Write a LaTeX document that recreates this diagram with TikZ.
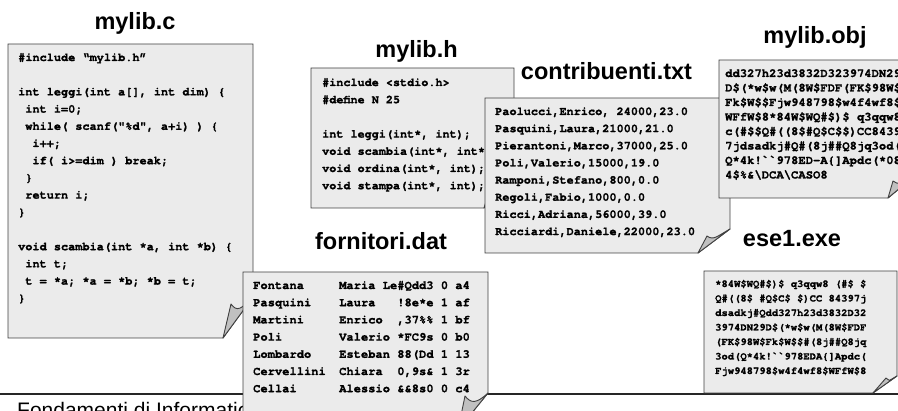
\documentclass[tikz,border=0pt]{standalone}
\usepackage{fontspec}
\setmainfont{Liberation Sans}
\setmonofont{texgyrecursor-bold.otf}[FakeBold=1.2]
\definecolor{boxfill}{HTML}{EBEBEB}
\definecolor{flapfill}{HTML}{C0C0C0}
\definecolor{edgegray}{HTML}{404040}
\tikzset{
  filetitle/.style={font=\fontsize{23.5}{28}\selectfont\bfseries, anchor=base, inner sep=0pt},
  codeline/.style={anchor=base west, inner sep=0pt, font=\ttfamily\fontsize{#1}{#1}\selectfont},
  docbody/.style={fill=boxfill, draw=edgegray, line width=0.9pt, line join=miter},
  docflap/.style={fill=flapfill, draw=edgegray, line width=0.9pt, line join=round},
}
% L T R B w h tx ty
\newcommand\docbox[8]{%
  \draw[docbody] (#1,#2) -- (#3,#2) -- ({#3},{#4-#6}) -- ({#3-#5},{#4}) -- (#1,#4) -- cycle;
  \draw[docflap] ({#3-#5},{#4}) -- ({#3-#5+#7},{#4-#8})
     .. controls +({0.2*#5},{0.2*#6}) and +({-0.4*#5},{0.3*#6}) .. ({#3},{#4-#6}) -- cycle;
}
\newcommand\onech{\hspace*{0.6em}}
\begin{document}
\begin{tikzpicture}[x=1pt,y=-1pt]
\useasboundingbox (0,0) rectangle (898,411);
\clip (0,0) rectangle (898,411);

% ---------- mylib.c ----------
\node[filetitle] (tc) at (135,29.5) {mylib.c};
\docbox{8}{44}{253}{338}{30}{41}{8}{34}
\foreach \i/\t in {0/{\#include “mylib.h”},
  2/{int leggi(int a[], int dim) \{},
  3/{\onech int i=0;},
  4/{\onech while( scanf("\%d", a+i) ) \{},
  5/{\onech\onech i++;},
  6/{\onech\onech if( i>=dim ) break;},
  7/{\onech \}},
  8/{\onech return i;},
  9/{\}},
  11/{void scambia(int *a, int *b) \{},
  12/{\onech int t;},
  13/{\onech t = *a; *a = *b; *b = t;},
  14/{\}}}
  \node[codeline=11.9] (c\i) at (18,{61+\i*17.2}) {\t};

% ---------- mylib.h ----------
\node[filetitle] (th) at (416.5,58) {mylib.h};
\docbox{311}{68}{514}{208}{30}{30}{8}{26}
\foreach \i/\t in {0/{\#include <stdio.h>},
  1/{\#define N 25},
  3/{int leggi(int*, int);},
  4/{void scambia(int*, int*);},
  5/{void ordina(int*, int);},
  6/{void stampa(int*, int);}}
  \node[codeline=11.8] (h\i) at (322,{86+\i*17.2}) {\t};

% ---------- contribuenti.txt ----------
\node[filetitle] (tt) at (606.5,79.5) {contribuenti.txt};
\docbox{485}{98}{730}{253}{32}{24}{9}{17}
\foreach \i/\t in {0/{Paolucci,Enrico, 24000,23.0},
  1/{Pasquini,Laura,21000,21.0},
  2/{Pierantoni,Marco,37000,25.0},
  3/{Poli,Valerio,15000,19.0},
  4/{Ramponi,Stefano,800,0.0},
  5/{Regoli,Fabio,1000,0.0},
  6/{Ricci,Adriana,56000,39.0},
  7/{Ricciardi,Daniele,22000,23.0}}
  \node[codeline=11.9] (t\i) at (495,{115+\i*17.15}) {\t};

% ---------- mylib.obj ----------
\node[filetitle] (to) at (815,43.5) {mylib.obj};
\docbox{719}{60}{912}{198}{24}{20}{5}{17}
\foreach \i/\t in {0/{dd327h23d3832D323974DN29D\$},
  1/{D\$(*w\$w(M(8W\$FDF(FK\$98W\$},
  2/{Fk\$W\$\$Fjw948798\$w4f4wf8\$},
  3/{WFfW\$8*84W\$WQ\#\$)\$ q3qqw8},
  4/{c(\#\$\$Q\#((8\$\#Q\$C\$\$)CC8439},
  5/{7jdsadkj\#Q\#(8j\#\#Q8jq3od(},
  6/{Q*4k!{}`{}`{}978ED-A\{]Apdc(*08},
  7/{4\$\%\&\textbackslash DCA\textbackslash CASO8}}
  \node[codeline=12.2] (o\i) at (725,{77+\i*14.5}) {\t};

% ---------- footer ----------
\coordinate (fl) at (0,394);
\coordinate (fr) at (898,394);
\draw[line width=1.4pt, black!85] (fl) -- (fr);
\node[anchor=base west, inner sep=0pt, font=\fontsize{21}{25}\selectfont] (foot) at (17,418) {Fondamenti di Informatica};

% ---------- fornitori.dat ----------
\node[filetitle] (tf) at (381,250) {fornitori.dat};
\docbox{243}{272}{488}{430}{30}{37}{7}{34}
\foreach \i/\a/\b in {0/{Fontana}/{Maria Le\#Qdd3 0 a4},
  1/{Pasquini}/{Laura\ \ \ !8e*e 1 af},
  2/{Martini}/{Enrico\ \ ,37\%\% 1 bf},
  3/{Poli}/{Valerio *FC9s 0 b0},
  4/{Lombardo}/{Esteban 88(Dd 1 13},
  5/{Cervellini}/{Chiara\ \ 0,9s\& 1 3r},
  6/{Cellai}/{Alessio \&\&8s0 0 c4}}
  {\node[codeline=12.1] (fa\i) at (253,{289+\i*17.2}) {\a};
   \node[codeline=12.1] (fb\i) at (339,{289+\i*17.2}) {\b};}

% ---------- ese1.exe ----------
\node[filetitle] (te) at (792,246.5) {ese1.exe};
\docbox{704}{271}{897}{393}{24}{17}{13}{15}
\foreach \i/\t in {0/{*84W\$WQ\#\$)\$ q3qqw8 (\#\$ \$},
  1/{Q\#((8\$ \#Q\$C\$ \$)CC 84397j},
  2/{dsadkj\#Qdd327h23d3832D32},
  3/{3974DN29D\$(*w\$w(M(8W\$FDF},
  4/{(FK\$98W\$Fk\$W\$\$\#(8j\#\#Q8jq},
  5/{3od(Q*4k!{}`{}`{}978EDA\{]Apdc(},
  6/{Fjw948798\$w4f4wf8\$WFfW\$8}}
  \node[codeline=10.5] (e\i) at (715,{287+\i*14.5}) {\t};
\end{tikzpicture}
\end{document}
